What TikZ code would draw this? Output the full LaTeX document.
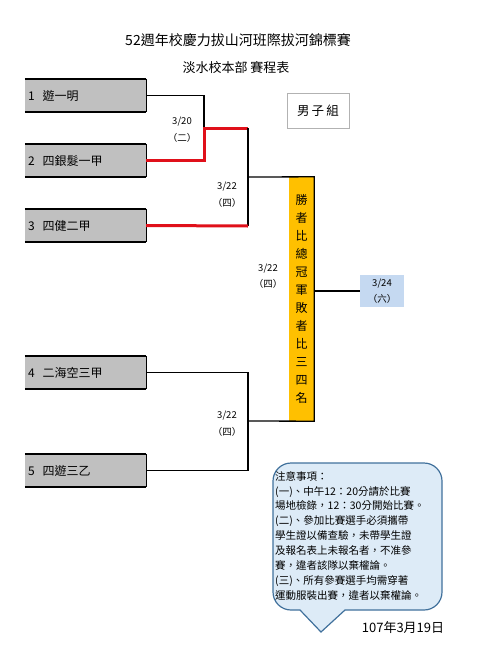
\documentclass[tikz,border=0pt]{standalone}
\usepackage{fontspec}
\setmainfont{Noto Sans CJK TC}
\definecolor{boxgray}{HTML}{C0C0C0}
\definecolor{winorange}{HTML}{FFC000}
\definecolor{finblue}{HTML}{C5D9F1}
\definecolor{callfill}{HTML}{DDEBF7}
\definecolor{calldraw}{HTML}{41719C}
\definecolor{redline}{HTML}{E0101A}
\begin{document}
\begin{tikzpicture}[x=1pt,y=-1pt,
  team/.style={fill=boxgray, minimum height=33pt, inner xsep=3pt, inner ysep=0pt,
    text width=115pt, align=left, font=\fontsize{12}{14}\selectfont},
  teamedge/.style={line width=1.6pt},
  blk/.style={line width=1.3pt},
  redl/.style={line width=3pt, redline},
  datelbl/.style={align=center, font=\fontsize{9.5}{16.5}\selectfont, inner sep=0pt},
]
\useasboundingbox (0,0) rectangle (478,653);

% titles
\node[font=\fontsize{14}{16}\selectfont] (title1) at (238,40) {52週年校慶力拔山河班際拔河錦標賽};
\node[font=\fontsize{13}{15}\selectfont] (title2) at (236,68) {淡水校本部\ 賽程表};

% teams
\node[team] (t1) at (85.5,95.5) {1\ \ 遊一明};
\node[team] (t2) at (85.5,160.5) {2\ \ 四銀髮一甲};
\node[team] (t3) at (85.5,225.5) {3\ \ 四健二甲};
\node[team] (t4) at (85.5,372.5) {4\ \ 二海空三甲};
\node[team] (t5) at (85.5,470.5) {5\ \ 四遊三乙};
\foreach \t in {t1,t2,t3,t4,t5}{
  \draw[teamedge] (\t.north west) -- (\t.north east);
  \draw[teamedge] (\t.south west) -- (\t.south east);
  \draw[line width=1pt] (\t.north east) -- (\t.south east);
}

% group box
\node[draw=gray!60, line width=0.8pt, minimum width=62pt, minimum height=35pt,
  font=\fontsize{12.5}{14}\selectfont] (grp) at (318,110.5) {男\,子\,組};

% winner box
\node[fill=winorange, minimum width=25pt, minimum height=244pt, inner sep=0pt,
  align=center, font=\fontsize{12}{18}\selectfont] (win) at (301.5,299)
  {勝\\者\\比\\總\\冠\\軍\\敗\\者\\比\\三\\四\\名};

% final box
\node[fill=finblue, minimum width=44pt, minimum height=32pt, inner sep=0pt,
  align=center, font=\fontsize{9.5}{16}\selectfont] (fin) at (382,291) {3/24\\（六）};

% coordinates
\coordinate (a1) at (204,128);
\coordinate (a2) at (248,128);
\coordinate (b1) at (248,226);
\coordinate (bu) at (248,177);
\coordinate (bl) at (248,421);
\coordinate (c1) at (248,372.5);
\coordinate (c2) at (248,470.5);

% bracket lines
\draw[blk] (t1.east) -| (a1);
\draw[redl] (t2.east) -| (a1) -- (a2);
\draw[blk] (a2) -- (b1);
\draw[redl] (t3.east) -- (b1);
\draw[blk] (bu) -- (win.north east) -- (win.south east) -- (bl);
\draw[blk] (t4.east) -- (c1) -- (c2) -- (t5.east);
\draw[blk] (win.east |- fin.west) -- (fin.west);

% date labels
\node[datelbl] (d1) at (182,129.5) {3/20\\（二）};
\node[datelbl] (d2) at (227,194.5) {3/22\\（四）};
\node[datelbl] (d3) at (268,276) {3/22\\（四）};
\node[datelbl] (d4) at (227,423.5) {3/22\\（四）};

% callout
\draw[fill=callfill, draw=calldraw, line width=1.2pt]
  (321,632) -- (300,610) {[rounded corners=18pt] -- (273,610) -- (273,463) -- (442,463) -- (442,610)} -- (345,610) -- cycle;
\node[anchor=north west, align=left, inner sep=0pt,
  font=\fontsize{10.5}{14.9}\selectfont] (notes) at (275,471)
  {注意事項：\\
   (一)、中午12：20分請於比賽\\
   場地檢錄，12：30分開始比賽。\\
   (二)、參加比賽選手必須攜帶\\
   學生證以備查驗，未帶學生證\\
   及報名表上未報名者，不准參\\
   賽，違者該隊以棄權論。\\
   (三)、所有參賽選手均需穿著\\
   運動服裝出賽，違者以棄權論。};

\node[font=\fontsize{13}{15}\selectfont] (date) at (403,628) {107年3月19日};
\end{tikzpicture}
\end{document}
